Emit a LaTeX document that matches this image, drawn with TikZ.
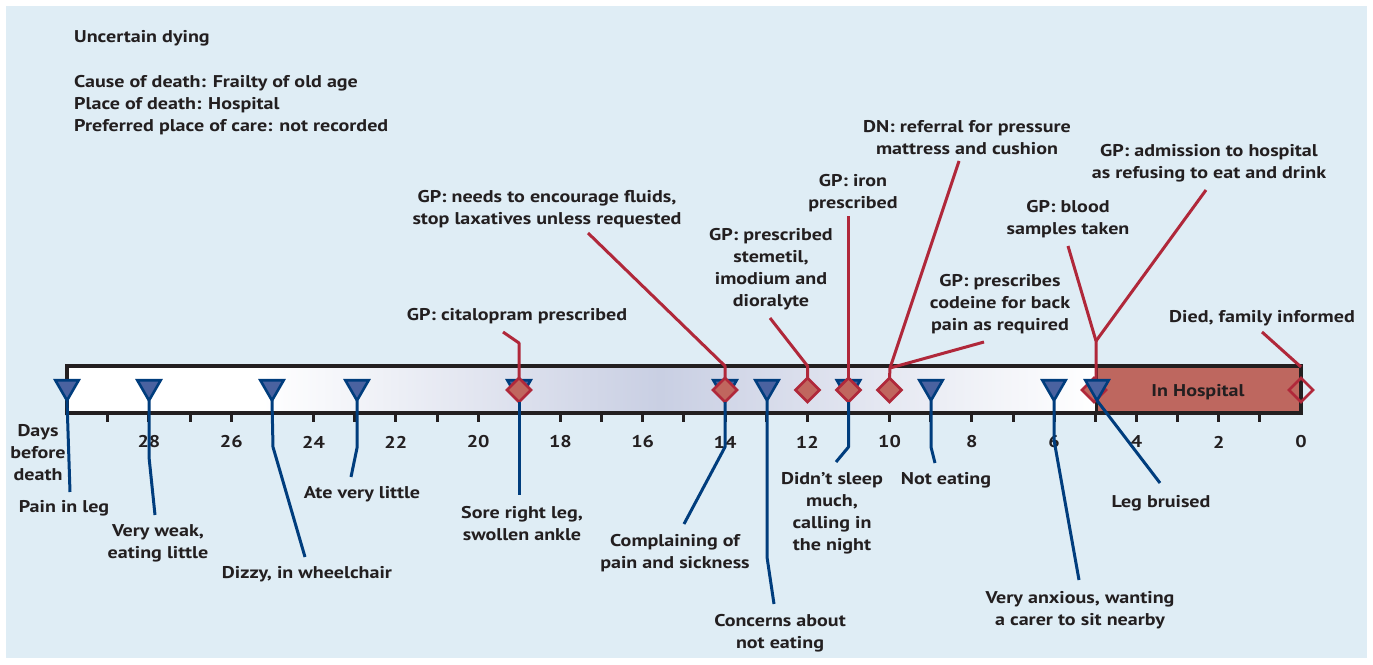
\documentclass[tikz,border=0pt]{standalone}
\usepackage{fontspec}
\setmainfont{PT Sans}[FakeStretch=1.18]
\usetikzlibrary{shapes.geometric}
\definecolor{bgblue}{HTML}{DFEDF5}
\definecolor{ink}{HTML}{231F20}
\definecolor{navy}{HTML}{003D7D}
\definecolor{triblue}{HTML}{4A62A0}
\definecolor{crimson}{HTML}{B0283A}
\definecolor{diared}{HTML}{C0665E}
\definecolor{hosp}{HTML}{BE675F}
\definecolor{midgrey}{HTML}{C9CFE3}
\tikzset{
  txt/.style={font=\bfseries\fontsize{17}{22}\selectfont, text=ink, align=center, inner sep=0pt, yshift=-2pt},
  blueline/.style={draw=navy, line width=3pt, line join=round},
  redline/.style={draw=crimson, line width=3pt, line join=round},
  tri/.style={regular polygon, regular polygon sides=3, shape border rotate=180, draw=navy, fill=triblue, line width=2.6pt, minimum size=27pt, inner sep=0pt, outer sep=0pt},
  dia/.style={diamond, draw=crimson, fill=diared, line width=2.6pt, minimum width=24pt, minimum height=24pt, inner sep=0pt, outer sep=0pt},
  tick/.style={draw=ink, line width=3pt},
}
\begin{document}
\begin{tikzpicture}[x=1pt,y=-1pt]
\useasboundingbox (0,0) rectangle (1373,664);
\fill[white] (0,0) rectangle (1373,664);
\fill[bgblue] (6,6) rectangle (1367,658);
% header text
\node[txt, anchor=west] (h1) at (74,36) {Uncertain dying};
\node[txt, anchor=west, align=left] (h2) at (74,103) {Cause of death: Frailty of old age\\Place of death: Hospital\\Preferred place of care: not recorded};
% bar
\fill[white] (67,366) rectangle (262,413);
\shade[left color=white, right color=midgrey] (262,366) rectangle (660,413);
\shade[left color=midgrey, right color=white] (660,366) rectangle (1096,413);
\fill[hosp] (1096,366) rectangle (1301,413);
\draw[ink, line width=4pt] (67,366) rectangle (1301,413);
\draw[ink, line width=3pt] (1096,366) -- (1096,413);
\node[txt] (hl) at (1198,390) {In Hospital};
% ticks
\foreach \d in {1,...,29} {
  \draw[tick] ({1301-41.143*\d},413) -- ({1301-41.143*\d},422);
}
\foreach \d in {0,2,...,28} {
  \node[txt] (n\d) at ({1301-41.143*\d},440) {\d};
}
\node[txt] (days) at (38,451) {Days\\before\\death};
% triangles (blue events)
\node[tri] (t30) at (67,387) {};
\node[tri] (t28) at (149,387) {};
\node[tri] (t25) at (272,387) {};
\node[tri] (t23) at (357,387) {};
\node[tri] (t19) at (519,387) {};
\node[tri] (t14) at (725,387) {};
\node[tri] (t13) at (767,387) {};
\node[tri] (t11) at (848.5,387) {};
\node[tri] (t9) at (931,387) {};
\node[tri] (t6) at (1054,387) {};
% diamonds (red events)
\node[dia] (d19) at (519,390) {};
\node[dia] (d14) at (725,390) {};
\node[dia] (d12) at (807.5,390) {};
\node[dia] (d11) at (848.5,390) {};
\node[dia] (d10) at (889.5,390) {};
\node[dia] (d5) at (1094,390) {};
\node[dia, fill=none] (d0) at (1301,390) {};
% red connectors
\coordinate (j5) at (1096,341);
\coordinate (blueend) at (1068,246);
\coordinate (admend) at (1206,190);
\draw[redline] (1096,380) -- (j5) -- (blueend);
\draw[redline] (j5) -- (admend);
\node[tri] (t5) at (1097,387) {};
% labels top
\node[txt] (lcit) at (517,314) {GP: citalopram prescribed};
\node[txt] (lflu) at (547,207) {GP: needs to encourage fluids,\\stop laxatives unless requested};
\node[txt] (lste) at (771,267) {GP: prescribed\\stemetil,\\imodium and\\dioralyte};
\node[txt] (liro) at (853,191) {GP: iron\\prescribed};
\node[txt] (ldn) at (967,136) {DN: referral for pressure\\mattress and cushion};
\node[txt] (lcod) at (1000,302) {GP: prescribes\\codeine for back\\pain as required};
\node[txt] (lblo) at (1068,217) {GP: blood\\samples taken};
\node[txt] (ladm) at (1209,161) {GP: admission to hospital\\as refusing to eat and drink};
\node[txt] (ldie) at (1262,316) {Died, family informed};
% labels bottom
\node[txt] (lpain) at (64,506) {Pain in leg};
\node[txt] (lweak) at (158,541) {Very weak,\\eating little};
\node[txt] (ldiz) at (307,572) {Dizzy, in wheelchair};
\node[txt] (late) at (362,492) {Ate very little};
\node[txt] (lsore) at (522,522) {Sore right leg,\\swollen ankle};
\node[txt] (lcomp) at (675,551) {Complaining of\\pain and sickness};
\node[txt] (lconc) at (780,631) {Concerns about\\not eating};
\node[txt] (lsleep) at (832,511) {Didn’t sleep\\much,\\calling in\\the night};
\node[txt] (lnot) at (946,478) {Not eating};
\node[txt] (lanx) at (1080,608) {Very anxious, wanting\\a carer to sit nearby};
\node[txt] (lleg) at (1161,501) {Leg bruised};
% red connectors (node to named points)
\coordinate (c19a) at (519,343); \coordinate (c19b) at (503,332);
\draw[redline] (d19.north) -- (c19a) -- (c19b);
\coordinate (c14a) at (725,366); \coordinate (c14b) at (588,233);
\draw[redline] (d14.north) -- (c14a) -- (c14b);
\coordinate (c12a) at (807.5,366); \coordinate (c12b) at (770,318);
\draw[redline] (d12.north) -- (c12a) -- (c12b);
\coordinate (c11a) at (848.5,216);
\draw[redline] (d11.north) -- (c11a);
\coordinate (c10a) at (890,368); \coordinate (c10b) at (959,161); \coordinate (c10c) at (984,342);
\draw[redline] (d10.north) -- (c10a) -- (c10b);
\draw[redline] (c10a) -- (c10c);
\coordinate (c0a) at (1301,367); \coordinate (c0b) at (1262,332);
\draw[redline] (c0a) -- (c0b);
% blue connectors
\coordinate (b30) at (70,492);
\draw[blueline] (t30.corner 1) -- (b30);
\coordinate (b28a) at (149,457); \coordinate (b28b) at (155,515);
\draw[blueline] (t28.corner 1) -- (b28a) -- (b28b);
\coordinate (b25a) at (273,447); \coordinate (b25b) at (305,557);
\draw[blueline] (t25.corner 1) -- (b25a) -- (b25b);
\coordinate (b23a) at (357,448); \coordinate (b23b) at (351,477);
\draw[blueline] (t23.corner 1) -- (b23a) -- (b23b);
\coordinate (b19) at (519,495);
\draw[blueline] (d19.south) -- (b19);
\coordinate (b14a) at (725,447); \coordinate (b14b) at (684,524);
\draw[blueline] (d14.south) -- (b14a) -- (b14b);
\coordinate (b13a) at (767,557); \coordinate (b13b) at (774,604);
\draw[blueline] (t13.corner 1) -- (b13a) -- (b13b);
\coordinate (b11a) at (848.5,447); \coordinate (b11b) at (836,462);
\draw[blueline] (d11.south) -- (b11a) -- (b11b);
\coordinate (b9a) at (931,447); \coordinate (b9b) at (935,463);
\draw[blueline] (t9.corner 1) -- (b9a) -- (b9b);
\coordinate (b6a) at (1054,440); \coordinate (b6b) at (1079,580);
\draw[blueline] (t6.corner 1) -- (b6a) -- (b6b);
\coordinate (b5) at (1160,483);
\draw[blueline] (t5.corner 1) -- (b5);
\end{tikzpicture}
\end{document}
